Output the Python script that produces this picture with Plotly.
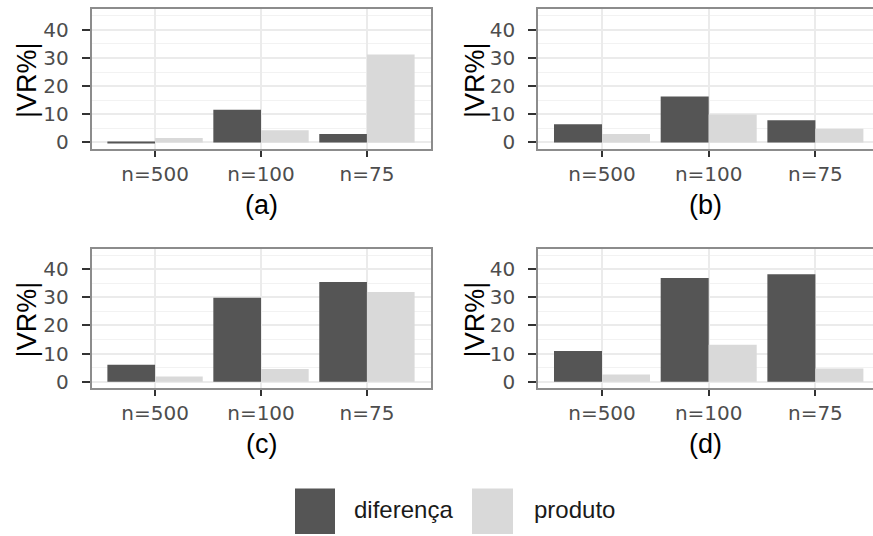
import plotly.graph_objects as go

# ---------------- data ----------------
categories = ["n=500", "n=100", "n=75"]
series_names = ["diferença", "produto"]
panel_labels = ["(a)", "(b)", "(c)", "(d)"]
y_title = "|VR%|"
y_ticks = [0, 10, 20, 30, 40]

a_diferenca = [0.3, 11.6, 3.0]
a_produto = [1.6, 4.3, 31.2]
b_diferenca = [6.5, 16.3, 7.9]
b_produto = [3.0, 9.9, 4.9]
c_diferenca = [6.0, 29.8, 35.4]
c_produto = [1.9, 4.5, 31.9]
d_diferenca = [10.9, 36.8, 38.2]
d_produto = [2.6, 13.1, 4.7]

# ---------------- style ----------------
W, H = 873, 536
DARK = "#555555"
LIGHT = "#d9d9d9"
GRID = "#ebebeb"
BORDER = "#8c8c8c"
TICKCOL = "#333333"
TICKFONT = dict(family="DejaVu Sans", size=20, color="#4d4d4d")
TITLEFONT = dict(family="Liberation Sans", size=27, color="#000000")


def fx(p):
    return p / W


def fy(p):
    return 1 - p / H


panels = [
    dict(dif=a_diferenca, prod=a_produto, x0=91.5, x1=430.5, y0=9.5, y1=150.5, cut=False, tx=261, ty=207, yx=27),
    dict(dif=b_diferenca, prod=b_produto, x0=538, x1=873, y0=9.5, y1=150.5, cut=True, tx=705, ty=207, yx=475),
    dict(dif=c_diferenca, prod=c_produto, x0=91.5, x1=430.5, y0=251.5, y1=392.5, cut=False, tx=261, ty=449, yx=27),
    dict(dif=d_diferenca, prod=d_produto, x0=538, x1=873, y0=251.5, y1=392.5, cut=True, tx=705, ty=449, yx=475),
]

fig = go.Figure()
annotations = []
shapes = []

for i, p in enumerate(panels, start=1):
    xa = "x" if i == 1 else f"x{i}"
    ya = "y" if i == 1 else f"y{i}"
    xkey = "xaxis" if i == 1 else f"xaxis{i}"
    ykey = "yaxis" if i == 1 else f"yaxis{i}"
    fig.add_trace(go.Bar(x=categories, y=p["dif"], name=series_names[0], xaxis=xa, yaxis=ya,
                         marker=dict(color=DARK, line=dict(width=0)), showlegend=False))
    fig.add_trace(go.Bar(x=categories, y=p["prod"], name=series_names[1], xaxis=xa, yaxis=ya,
                         marker=dict(color=LIGHT, line=dict(width=0)), showlegend=False))
    xr = [-0.6, 2.54] if p["cut"] else [-0.6, 2.6]
    fig.update_layout({
        xkey: dict(domain=[max(0, fx(p["x0"])), min(1, fx(p["x1"]))], anchor=ya, type="category",
                   range=xr, showgrid=True, gridcolor=GRID, gridwidth=1.6,
                   showline=True, mirror=True, linecolor=BORDER, linewidth=1.6,
                   ticks="outside", ticklen=6, tickwidth=1.5, tickcolor=TICKCOL,
                   tickfont=TICKFONT, ticklabelstandoff=0, zeroline=False, fixedrange=True),
        ykey: dict(domain=[fy(p["y1"]), fy(p["y0"])], anchor=xa,
                   range=[-2.25, 47.25], tickvals=y_ticks, showgrid=True, gridcolor=GRID, gridwidth=1.6,
                   minor=dict(dtick=5, tick0=0, showgrid=True, gridcolor="#f2f2f2", gridwidth=1),
                   showline=True, mirror=not p["cut"], linecolor=BORDER, linewidth=1.6,
                   ticks="outside", ticklen=8, tickwidth=1.5, tickcolor=TICKCOL,
                   tickfont=TICKFONT, ticklabelstandoff=9, zeroline=False, fixedrange=True),
    })
    annotations.append(dict(text=panel_labels[i - 1], x=fx(p["tx"]), y=fy(p["ty"]), xref="paper", yref="paper",
                            xanchor="center", yanchor="middle", showarrow=False, font=TITLEFONT))
    annotations.append(dict(text=y_title, x=fx(p["yx"]), y=fy((p["y0"] + p["y1"]) / 2 + 1), xref="paper", yref="paper",
                            xanchor="center", yanchor="middle", textangle=-90, showarrow=False, font=TITLEFONT))

# legend (drawn as keys + labels)
legend_items = [(series_names[0], DARK, 295, 335, 352), (series_names[1], LIGHT, 472, 513, 532)]
for name, col, k0, k1, tx in legend_items:
    shapes.append(dict(type="rect", xref="paper", yref="paper", x0=fx(k0), x1=fx(k1), y0=fy(540), y1=fy(494),
                       fillcolor=col, line=dict(width=0)))
    annotations.append(dict(text=name, x=fx(tx), y=fy(515), xref="paper", yref="paper", xanchor="left",
                            yanchor="middle", showarrow=False,
                            font=dict(family="Liberation Sans", size=24, color="#1a1a1a")))

fig.update_layout(
    width=W, height=H, margin=dict(l=0, r=0, t=0, b=0),
    paper_bgcolor="white", plot_bgcolor="white",
    barmode="group", bargap=0.1, bargroupgap=0,
    annotations=annotations, shapes=shapes, showlegend=False,
)

fig.write_html("out.html", config={"displayModeBar": False},
               post_script="document.body.style.margin='0';document.body.style.overflow='hidden';")
